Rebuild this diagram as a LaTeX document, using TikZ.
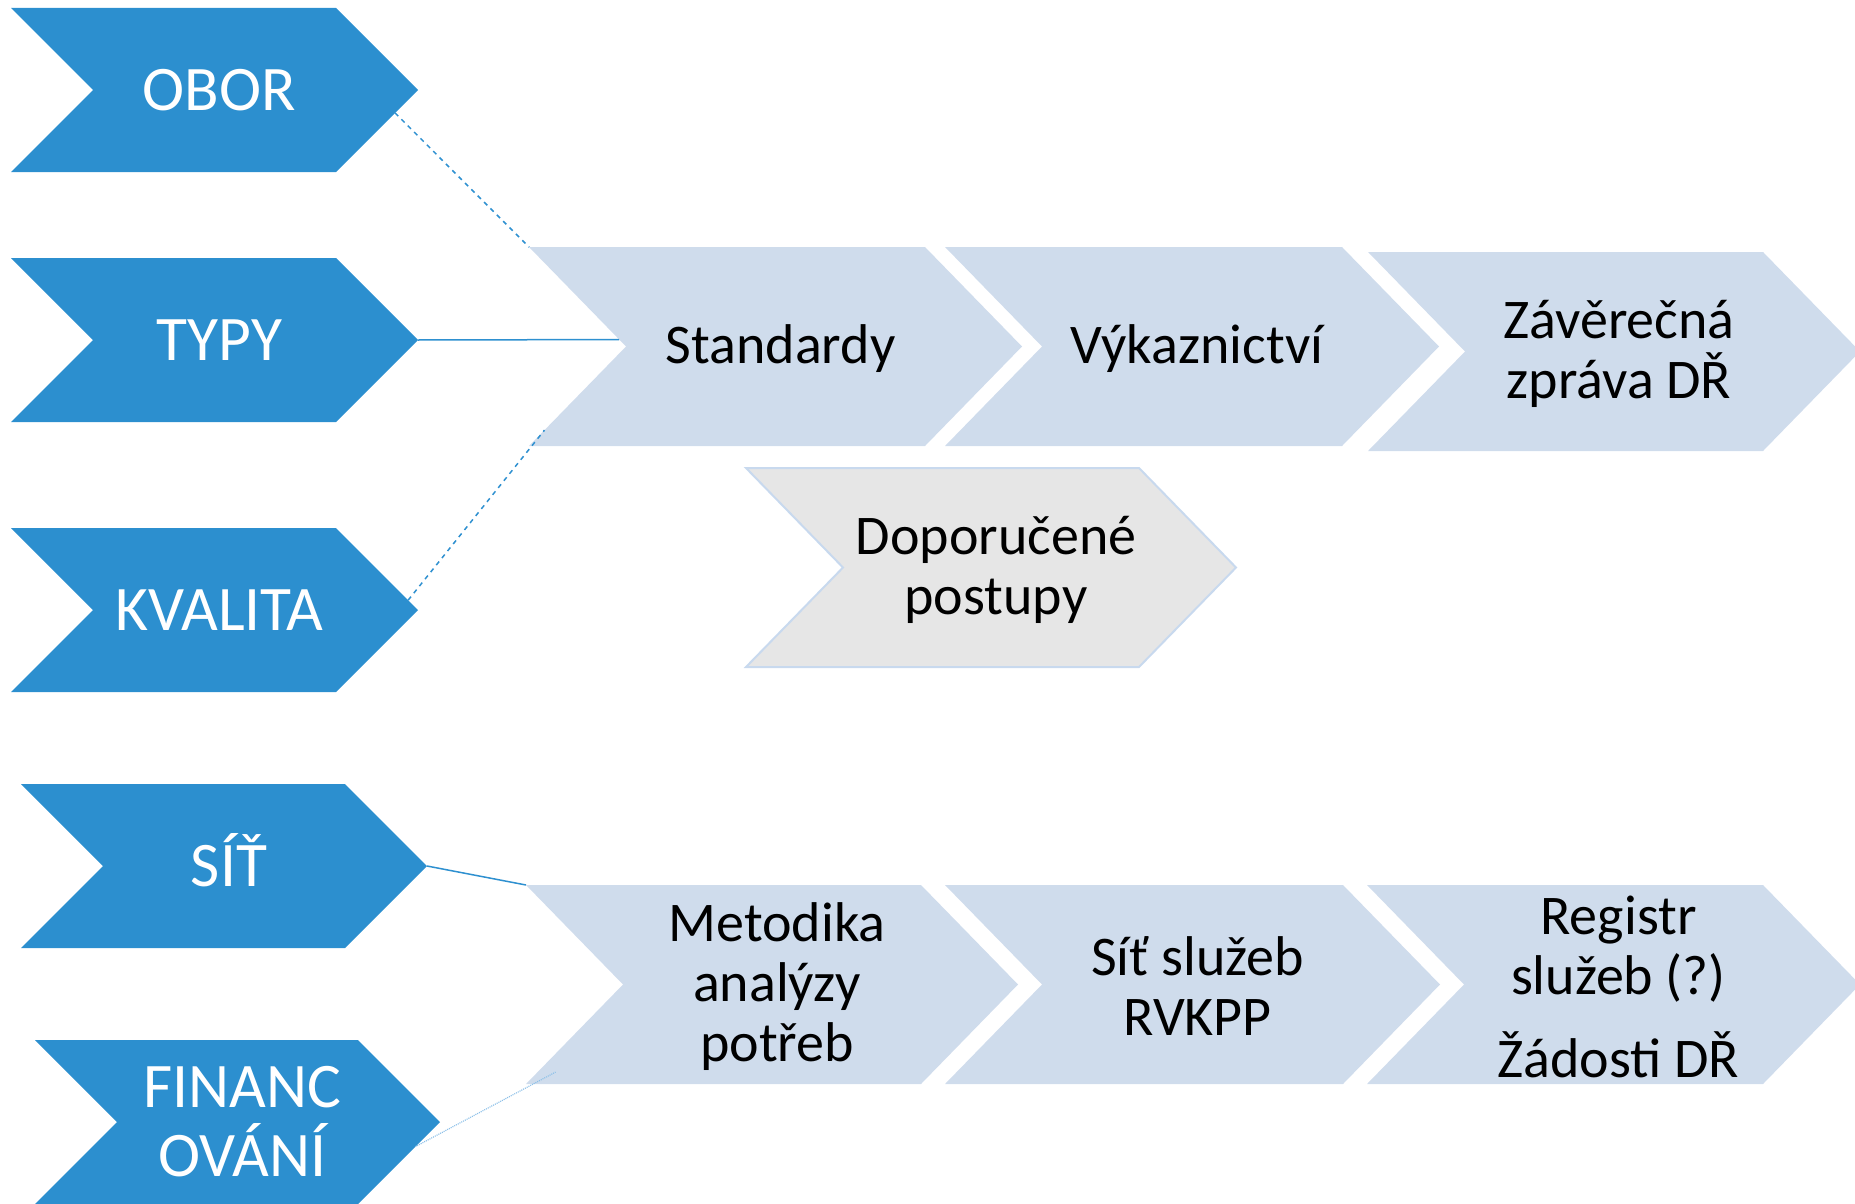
\documentclass[tikz,border=0pt]{standalone}
\usepackage{fontspec}
\setmainfont{Carlito}
\usetikzlibrary{calc}
\definecolor{darkblue}{HTML}{2C8FCF}
\definecolor{lightblue}{HTML}{CFDCEC}
\definecolor{lightgray}{HTML}{E6E6E6}
\definecolor{edgeblue}{HTML}{C8D9EE}
\definecolor{lineblue}{HTML}{2E90D0}
\definecolor{dotblue}{HTML}{8CC0E8}
\tikzset{
  darkchev/.style={fill=darkblue},
  lightchev/.style={fill=lightblue},
  graychev/.style={fill=lightgray, draw=edgeblue, line width=2pt},
  whitetext/.style={text=white, align=center, font=\fontsize{63.5}{69}\selectfont, inner sep=0pt, xshift=5pt},
  blacktext/.style={text=black, align=center, font=\fontsize{56}{60}\selectfont, inner sep=0pt, xshift=5pt, yshift=-2pt},
  dashlink/.style={draw=lineblue, line width=1.5pt, dash pattern=on 4.5pt off 4.5pt},
  solidlink/.style={draw=lineblue, line width=1.5pt},
  dotlink/.style={draw=dotblue, line width=1.2pt, dash pattern=on 1pt off 1pt},
}
\def\chevdepth{82}
% #1 name, #2 shape style, #3 text style, #4 x left, #5 x corner, #6 y top, #7 y bottom, #8 text
\newcommand\chevron[8]{%
  \path[#2] (#4,#6) coordinate (#1-tl) -- (#5,#6) coordinate (#1-tr)
    -- ({#5+\chevdepth},{(#6+#7)/2}) coordinate (#1-tip)
    -- (#5,#7) coordinate (#1-br) -- (#4,#7) coordinate (#1-bl)
    -- ({#4+\chevdepth},{(#6+#7)/2}) coordinate (#1-notch) -- cycle;
  \node[#3] (#1) at ({(#4+#5+\chevdepth)/2},{(#6+#7)/2}) {#8};
}
\begin{document}
\begin{tikzpicture}[x=1pt,y=-1pt]
\useasboundingbox (0,0) rectangle (1855,1204);
% dark chevrons
\def\chevdepth{82}
\chevron{obor}{darkchev}{whitetext}{11}{336}{8}{172}{OBOR}
\chevron{typy}{darkchev}{whitetext}{11}{336}{258}{422}{TYPY}
\chevron{kval}{darkchev}{whitetext}{11}{336}{528}{692}{KVALITA}
\chevron{sit}{darkchev}{whitetext}{21}{345}{784}{948}{\smash{SÍŤ}\vphantom{SIT}}
\chevron{fin}{darkchev}{whitetext}{35}{358}{1040}{1204}{FINANC\\OVÁNÍ}
% light chevrons
\def\chevdepth{97}
\chevron{std}{lightchev}{blacktext}{529}{925}{247}{446}{Standardy}
\chevron{vyk}{lightchev}{blacktext}{945}{1342}{247}{446}{Výkaznictví}
\chevron{zav}{lightchev}{blacktext}{1368}{1763}{252}{451}{Závěrečná\\zpráva DŘ}
\chevron{dop}{graychev}{blacktext}{746}{1139}{468}{667}{Doporučené\\postupy}
\chevron{met}{lightchev}{blacktext}{526}{921}{885}{1084}{Metodika\\analýzy\\potřeb}
\chevron{sluz}{lightchev}{blacktext}{945}{1343}{885}{1084}{Síť služeb\\RVKPP}
\chevron{reg}{lightchev}{blacktext}{1367}{1763}{885}{1084}{Registr\\služeb (?)\\[23pt]Žádosti DŘ}
% connectors
\draw[dashlink] ($(obor-tip)!0.28!(obor-br)$) -- (std-tl);
\draw[solidlink] (typy-tip) -- ($(std-tl)!0.93!(std-notch)$);
\draw[dashlink] ($(kval-tr)!0.88!(kval-tip)$) -- ($(std-bl)!0.16!(std-notch)$);
\draw[solidlink] (sit-tip) -- (met-tl);
\draw[dotlink] ($(fin-tip)!0.3!(fin-br)$) -- ($(met-bl)!0.12!(met-notch) + (18,0)$);
\end{tikzpicture}
\end{document}
